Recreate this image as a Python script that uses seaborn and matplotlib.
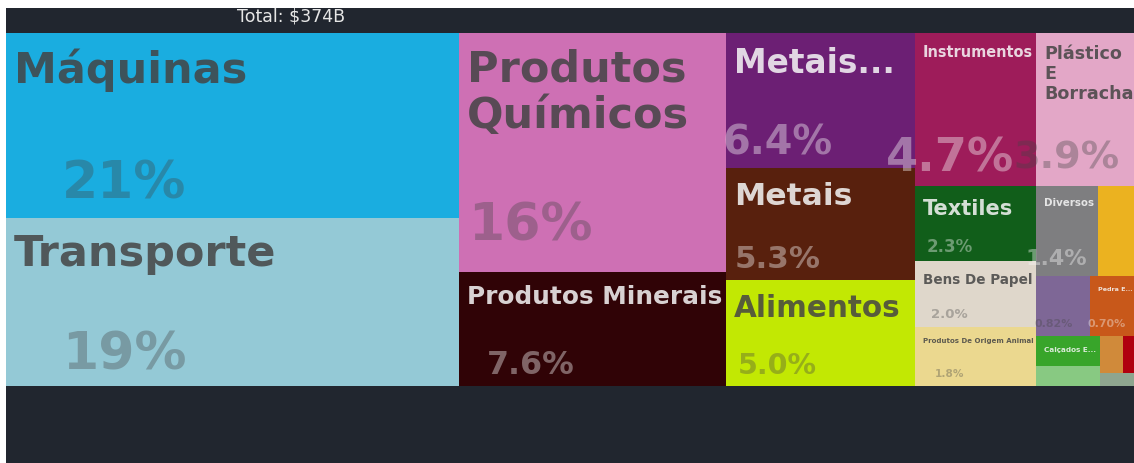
import colorsys
import seaborn as sns
import matplotlib.pyplot as plt
from matplotlib.colors import to_rgb
from matplotlib.patches import Rectangle

# setores (importações, US$ bilhões)
setores = ["Máquinas", "Transporte", "Produtos Químicos", "Produtos Minerais",
           "Metais Preciosos", "Metais", "Alimentos", "Instrumentos",
           "Plástico E Borracha", "Textiles", "Bens De Papel",
           "Produtos De Origem Animal", "Diversos", "Produtos Vegetais",
           "Subprodutos Animais E Vegetais", "Pedra E Vidro", "Calçados E Chapéus",
           "Peles De Animais", "Produtos De Madeira", "Armas", "Obras De Arte"]
valores = [78.6, 71.4, 59.8, 28.5, 23.9, 19.9, 18.7, 17.5, 14.5, 8.5, 7.5,
           6.7, 5.2, 3.3, 3.07, 2.62, 1.8, 1.2, 0.8, 0.5, 0.45]
# texto que aparece em cada caixa ("" = sem rótulo)
rotulos = ["Máquinas", "Transporte", "Produtos\nQuímicos", "Produtos Minerais",
           "Metais...", "Metais", "Alimentos", "Instrumentos",
           "Plástico\nE\nBorracha", "Textiles", "Bens De Papel",
           "Produtos De Origem Animal", "Diversos", "", "", "Pedra E...",
           "Calçados E...", "", "", "", ""]
cores = ["#1aade0", "#94c9d6", "#ce70b4", "#300306", "#6c1f74", "#58200d",
         "#c2e803", "#9e1c5a", "#e3a7c7", "#115e1a", "#dfd7cb", "#ebd88f",
         "#7e7e80", "#ebb220", "#7e6796", "#c8581a", "#38a52a", "#88c982",
         "#d08a3a", "#b0000f", "#8ea58f"]

FUNDO = "#21262f"
ESCURO = "#444444"
CLARO = "#f7f7f7"
DPI = 100
LARG, ALT = 1134, 463          # tamanho da figura em px
X0, Y0, W, H = 6, 33, 1131, 353  # área do treemap em px


def squarify(vals, x0, y0, x1, y1, ratio=(1 + 5 ** 0.5) / 2):
    # mesmo algoritmo do d3.treemapSquarify
    rects = []
    value = sum(vals)
    i0, n = 0, len(vals)
    while i0 < n:
        dx, dy = x1 - x0, y1 - y0
        i1 = i0 + 1
        soma = mn = mx = vals[i0]
        alpha = max(dy / dx, dx / dy) / (value * ratio)
        beta = soma * soma * alpha
        min_ratio = max(mx / beta, beta / mn)
        while i1 < n:
            v = vals[i1]
            s = soma + v
            beta = s * s * alpha
            novo = max(max(mx, v) / beta, beta / min(mn, v))
            if novo > min_ratio:
                break
            soma, mn, mx, min_ratio = s, min(mn, v), max(mx, v), novo
            i1 += 1
        linha = vals[i0:i1]
        if dx < dy:
            h = dy * soma / value
            xx = x0
            for v in linha:
                w = dx * v / soma
                rects.append((xx, y0, w, h))
                xx += w
            y0 += h
        else:
            w = dx * soma / value
            yy = y0
            for v in linha:
                h = dy * v / soma
                rects.append((x0, yy, w, h))
                yy += h
            x0 += w
        value -= soma
        i0 = i1
    return rects


def tom_texto(cor):
    r, g, b = to_rgb(cor)
    h, l, s = colorsys.rgb_to_hls(r, g, b)
    if l > 0.65:
        return ESCURO
    if l < 0.41:
        return CLARO
    return ESCURO if (h * 360 > 35 and s >= 0.15) else CLARO


def fmt_pct(p):
    if p >= 10:
        return f"{p:.0f}%"
    if p >= 1:
        return f"{p:.1f}%"
    return f"{p:.2f}%"


sns.set_theme(style="white")
plt.rcParams['font.family'] = ['DejaVu Sans']

fig = plt.figure(figsize=(LARG / DPI, ALT / DPI), dpi=DPI, facecolor="white")
fundo = fig.add_axes([X0 / LARG, 0, 1, (ALT - 8) / ALT], zorder=-1)
fundo.set_facecolor(FUNDO)
fundo.set_xticks([])
fundo.set_yticks([])
sns.despine(ax=fundo, left=True, bottom=True)

ax = fig.add_axes([X0 / LARG, (ALT - Y0 - H) / ALT, W / LARG, H / ALT], zorder=1)
ax.set_xlim(0, W)
ax.set_ylim(H, 0)
ax.axis("off")

renderer = fig.canvas.get_renderer()


def largura_em(texto):
    # largura do texto (em unidades de em) em DejaVu Sans Bold
    t = fig.text(0, 0, texto, fontsize=100 * 72 / DPI, fontweight="bold", linespacing=1.15)
    bb = t.get_window_extent(renderer)
    t.remove()
    return bb.width / 100


pt = 72 / DPI
total = sum(valores)
caixas = squarify(valores, 0, 0, W, H)

for i, ((x, y, w, h), rot, nome, cor, val) in enumerate(zip(caixas, rotulos, setores, cores, valores)):
    ax.add_patch(Rectangle((x, y), w, h, facecolor=cor, edgecolor="none", zorder=2 * i))
    tom = tom_texto(cor)
    if rot:
        palavra = max(nome.split(), key=largura_em)
        em = min(43, 0.28 * h, (w - 12) / largura_em(rot), (w - 12) / largura_em(palavra))
        ax.text(x + 8, y + 10 + 0.12 * em, rot, ha="left", va="top", fontsize=em * pt,
                fontweight="bold", color=tom, alpha=0.85, linespacing=1.15, zorder=2 * i + 1)
    if w >= 45 and h >= 45:
        em = max(10, min(52, 0.383 * h - 12, 0.38 * w))
        ax.text(x + 4.5 + 0.251 * w, y + 0.79 * h + 0.365 * em, fmt_pct(100 * val / total),
                ha="center", va="baseline", fontsize=em * pt, fontweight="bold",
                color=tom, alpha=0.35 if tom == ESCURO else 0.4, zorder=2 * i + 1)

fig.text(291 / LARG, 1 - 17 / ALT, f"Total: ${total:.0f}B", ha="center", va="center",
         color="#e6e6e6", fontsize=12.5)

fig.savefig("out.png", dpi=DPI, facecolor=fig.get_facecolor())
plt.close(fig)
